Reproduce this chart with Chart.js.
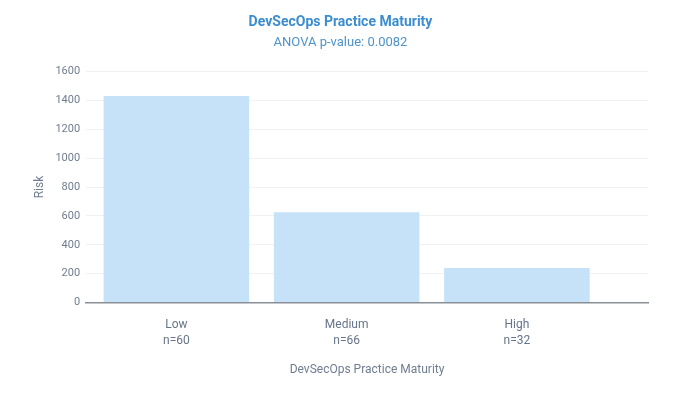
<!DOCTYPE html>
<html>
<head>
<meta charset="utf-8">
<script src="https://cdn.jsdelivr.net/npm/chart.js@4.4.1/dist/chart.umd.min.js"></script>
<style>
    body { margin: 0; background: #ffffff; }
    #wrap { width: 680px; height: 398px; }
</style>
</head>
<body>
<div id="wrap"><canvas id="maturityChart" width="680" height="398"></canvas></div>
<script>
// Data
const categories = ['Low', 'Medium', 'High'];
const sampleSizes = [60, 66, 32];
const riskValues = [1430, 625, 240];
const yTicks = [0, 200, 400, 600, 800, 1000, 1200, 1400, 1600];

const FONT = 'Roboto, "Noto Sans", sans-serif';
const TEXT_GREY = '#6f7d90';

// bars sit at 0,1,2 on a linear x scale, with empty room on the right like the original
const xMin = -0.53;
const xMax = 2.77;

document.addEventListener('DOMContentLoaded', () => {
    const ctx = document.getElementById('maturityChart').getContext('2d');
    new Chart(ctx, {
        type: 'bar',
        data: {
            datasets: [{
                label: 'Risk',
                data: riskValues.map((v, i) => ({ x: i, y: v })),
                backgroundColor: '#c6e2f9',
                borderWidth: 0,
                barPercentage: 1,
                categoryPercentage: 0.855
            }]
        },
        options: {
            responsive: false,
            animation: false,
            layout: { padding: { left: 33, right: 32, top: 8, bottom: 21 } },
            plugins: {
                legend: { display: false },
                tooltip: { enabled: false },
                title: {
                    display: true,
                    text: 'DevSecOps Practice Maturity',
                    color: '#3b8dcf',
                    font: { family: FONT, size: 14, weight: 'bold' },
                    padding: { top: 6, bottom: 4 }
                },
                subtitle: {
                    display: true,
                    text: 'ANOVA p-value: 0.0082',
                    color: '#4f93c8',
                    font: { family: FONT, size: 13 },
                    padding: { top: 0, bottom: 21 }
                }
            },
            scales: {
                x: {
                    type: 'linear',
                    offset: false,
                    bounds: 'data',
                    min: xMin,
                    max: xMax,
                    afterBuildTicks: (scale) => { scale.ticks = categories.map((c, i) => ({ value: i })); },
                    grid: { display: false, drawTicks: false, offset: false },
                    border: { display: true, color: '#8a8f96', width: 1.5 },
                    ticks: {
                        callback: (v) => [categories[v], 'n=' + sampleSizes[v]],
                        color: '#66748a',
                        font: { family: FONT, size: 12, lineHeight: '16px' },
                        padding: 14,
                        maxRotation: 0,
                        autoSkip: false
                    },
                    title: {
                        display: true,
                        text: 'DevSecOps Practice Maturity',
                        color: TEXT_GREY,
                        font: { family: FONT, size: 12 },
                        padding: { top: 0, bottom: 0 }
                    }
                },
                y: {
                    min: 0,
                    max: 1600,
                    afterBuildTicks: (scale) => { scale.ticks = yTicks.map(v => ({ value: v })); },
                    grid: { color: '#f1f1f1', drawTicks: false },
                    border: { display: false },
                    ticks: {
                        callback: (v) => String(v),
                        color: TEXT_GREY,
                        font: { family: FONT, size: 11 },
                        padding: 6
                    },
                    title: {
                        display: true,
                        text: 'Risk',
                        color: TEXT_GREY,
                        font: { family: FONT, size: 12 },
                        padding: { top: 0, bottom: 2 }
                    }
                }
            }
        }
    });
});
</script>
</body>
</html>
